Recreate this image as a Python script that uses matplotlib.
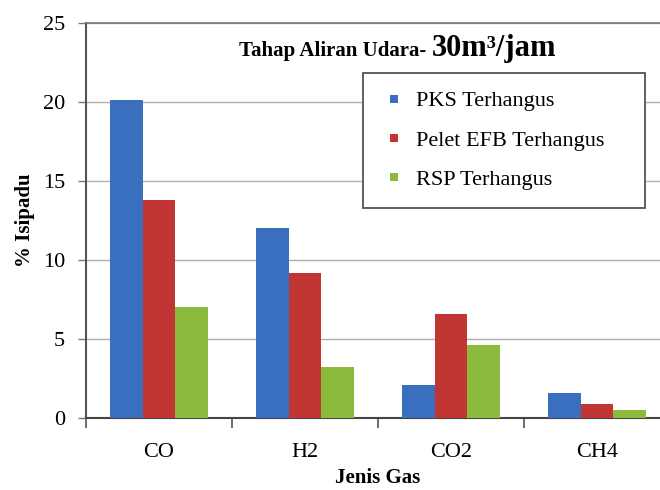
import matplotlib
matplotlib.use("Agg")
import matplotlib.pyplot as plt
from matplotlib.lines import Line2D
import numpy as np

gases = ["CO", "H2", "CO2", "CH4"]
series_names = ["PKS Terhangus", "Pelet EFB Terhangus", "RSP Terhangus"]
pks = [20.1, 12.0, 2.1, 1.6]
pelet_efb = [13.8, 9.2, 6.6, 0.9]
rsp = [7.0, 3.2, 4.6, 0.5]
y_ticks = [0, 5, 10, 15, 20, 25]

colors = ["#3a6fc0", "#c23535", "#8cba3c"]

plt.rcParams["font.family"] = ["Liberation Serif", "DejaVu Serif"]

fig = plt.figure(figsize=(6.6, 4.9), dpi=100)
ax = fig.add_axes([0.1303, 0.1469, 0.885, 0.806])

x = np.arange(len(gases))
width = 0.222
for i, (vals, name) in enumerate(zip([pks, pelet_efb, rsp], series_names)):
    ax.bar(x + (i - 1) * width, vals, width, color=colors[i], label=name, zorder=3)

ax.set_xlim(-0.5, len(gases) - 0.5)
ax.set_ylim(0, 25)
ax.set_yticks(y_ticks)
ax.set_xticks(x)
ax.set_xticklabels(gases)
ax.set_xticks(np.arange(-0.5, len(gases), 1.0), minor=True)
ax.tick_params(axis="x", which="major", length=0, labelsize=16, pad=18)
ax.tick_params(axis="x", which="minor", length=7, width=1.2, color="#555555", direction="out")
ax.tick_params(axis="y", length=6, width=1.0, color="#777777", labelsize=16, pad=9)

ax.grid(axis="y", color="#b0b0b0", linewidth=1.0, zorder=0)
ax.set_axisbelow(True)
ax.spines["right"].set_visible(False)
ax.spines["top"].set_color("#777777")
ax.spines["top"].set_linewidth(1.2)
ax.spines["left"].set_color("#555555")
ax.spines["left"].set_linewidth(1.5)
ax.spines["bottom"].set_color("#444444")
ax.spines["bottom"].set_linewidth(1.5)

ax.set_ylabel("% Isipadu", fontsize=15, fontweight="bold", labelpad=6)
ax.set_xlabel("Jenis Gas", fontsize=15, fontweight="bold", labelpad=4)

# title sits inside the plot area, in two sizes
ax.text(0.592, 22.9, "Tahap Aliran Udara- ", transform=ax.get_yaxis_transform(),
        ha="right", va="baseline", fontsize=15, fontweight="bold")
ax.text(0.592, 22.9, "30m³/jam", transform=ax.get_yaxis_transform(),
        ha="left", va="baseline", fontsize=22, fontweight="bold")

handles = [Line2D([], [], marker="s", linestyle="none", markersize=5.5,
                  color=c, markeredgewidth=0) for c in colors]
leg = ax.legend(handles, series_names, loc="upper left", mode="expand",
                bbox_to_anchor=(0.55, 0.851 - 0.3, 0.427, 0.3), bbox_transform=fig.transFigure,
                fontsize=16, frameon=True, fancybox=False, framealpha=1,
                edgecolor="#444444", handlelength=1.2, handletextpad=0.4,
                labelspacing=0.85, borderpad=0.8, borderaxespad=0)
leg.get_frame().set_linewidth(1.2)
leg.set_zorder(5)

fig.savefig("out.png", dpi=100)
